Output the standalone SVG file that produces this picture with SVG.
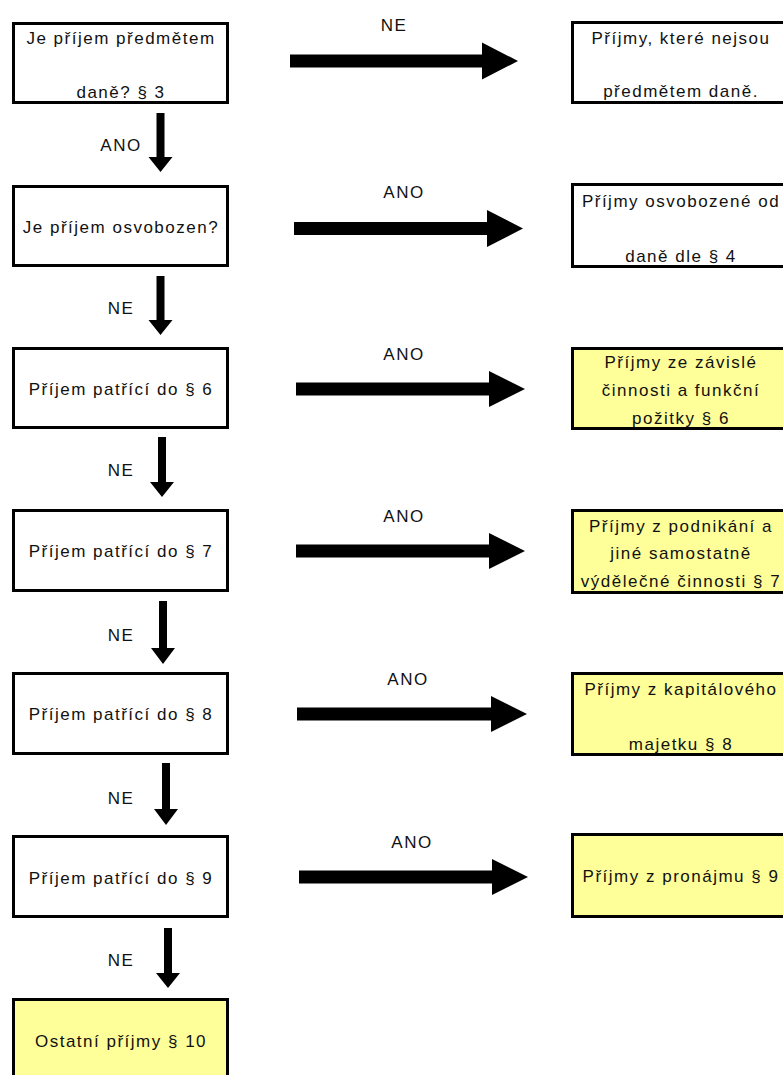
<svg xmlns="http://www.w3.org/2000/svg" width="783" height="1075" viewBox="0 0 783 1075">
<style>
.box{fill:#fff;stroke:#000;stroke-width:3}
.yel{fill:#ffff99;stroke:#000;stroke-width:3}
text{font-family:"Liberation Sans",Arial,sans-serif;font-size:17px;letter-spacing:1.5px;fill:#111;text-anchor:middle}
.arr{fill:#000}
</style>
<rect width="783" height="1075" fill="#fff"/>
<g id="n1"><rect class="box" x="13.5" y="23.5" width="214" height="79"/><text x="121" y="44">Je příjem předmětem</text><text x="121" y="98">daně? § 3</text></g>
<g id="n2"><rect class="box" x="13.5" y="186.5" width="214" height="79"/><text x="121" y="233">Je příjem osvobozen?</text></g>
<g id="n3"><rect class="box" x="13.5" y="348.5" width="214" height="79"/><text x="121" y="395">Příjem patřící do § 6</text></g>
<g id="n4"><rect class="box" x="13.5" y="510.5" width="214" height="80"/><text x="121" y="557">Příjem patřící do § 7</text></g>
<g id="n5"><rect class="box" x="13.5" y="673.5" width="214" height="80"/><text x="121" y="720">Příjem patřící do § 8</text></g>
<g id="n6"><rect class="box" x="13.5" y="836.5" width="214" height="80"/><text x="121" y="884">Příjem patřící do § 9</text></g>
<g id="n7"><rect class="yel" x="13.5" y="999.5" width="214" height="100"/><text x="121" y="1047">Ostatní příjmy § 10</text></g>
<g id="r1"><rect class="box" x="572.5" y="22.5" width="240" height="80"/><text x="681" y="44">Příjmy, které nejsou</text><text x="681" y="97">předmětem daně.</text></g>
<g id="r2"><rect class="box" x="572.5" y="184.5" width="240" height="82"/><text x="681" y="207">Příjmy osvobozené od</text><text x="681" y="262">daně dle § 4</text></g>
<g id="r3"><rect class="yel" x="572.5" y="348.5" width="240" height="80"/><text x="681" y="368">Příjmy ze závislé</text><text x="681" y="396">činnosti a funkční</text><text x="681" y="424">požitky § 6</text></g>
<g id="r4"><rect class="yel" x="572.5" y="510.5" width="240" height="82"/><text x="681" y="532">Příjmy z podnikání a</text><text x="681" y="559">jiné samostatně</text><text x="681" y="587">výdělečné činnosti § 7</text></g>
<g id="r5"><rect class="yel" x="572.5" y="673.5" width="240" height="81"/><text x="681" y="695">Příjmy z kapitálového</text><text x="681" y="750">majetku § 8</text></g>
<g id="r6"><rect class="yel" x="572.5" y="834.5" width="240" height="82"/><text x="681" y="882">Příjmy z pronájmu § 9</text></g>
<g id="connectors">
<path class="arr" d="M156.5 113H164.5V157H172.5L160.5 172L148.5 157H156.5Z"/>
<path class="arr" d="M156.5 276H164.5V320H172.5L160.5 335L148.5 320H156.5Z"/>
<path class="arr" d="M158 437H166V482H174L162 497L150 482H158Z"/>
<path class="arr" d="M159 601H167V648H175L163 664L151 648H159Z"/>
<path class="arr" d="M162 763H170V809H178L166 825L154 809H162Z"/>
<path class="arr" d="M164 928H172V973H180L168 988L156 973H164Z"/>
<path class="arr" d="M290 54.5H482V42.5L518 61L482 79.5V67.5H290Z"/>
<path class="arr" d="M294 222H487V210L523 228.5L487 247V235H294Z"/>
<path class="arr" d="M296 382.5H489V371L525 389L489 407V395.5H296Z"/>
<path class="arr" d="M296 544.5H489V533L525 551L489 569V557.5H296Z"/>
<path class="arr" d="M297 707.5H491V696L527 714L491 732V720.5H297Z"/>
<path class="arr" d="M299 870.5H492V859L528 877L492 895V883.5H299Z"/>
<text x="121" y="151">ANO</text>
<text x="121" y="314">NE</text>
<text x="121" y="476">NE</text>
<text x="121" y="641">NE</text>
<text x="121" y="804">NE</text>
<text x="121" y="966">NE</text>
<text x="394" y="31">NE</text>
<text x="404" y="198">ANO</text>
<text x="404" y="360">ANO</text>
<text x="404" y="522">ANO</text>
<text x="408" y="685">ANO</text>
<text x="412" y="848">ANO</text>
</g>
</svg>
